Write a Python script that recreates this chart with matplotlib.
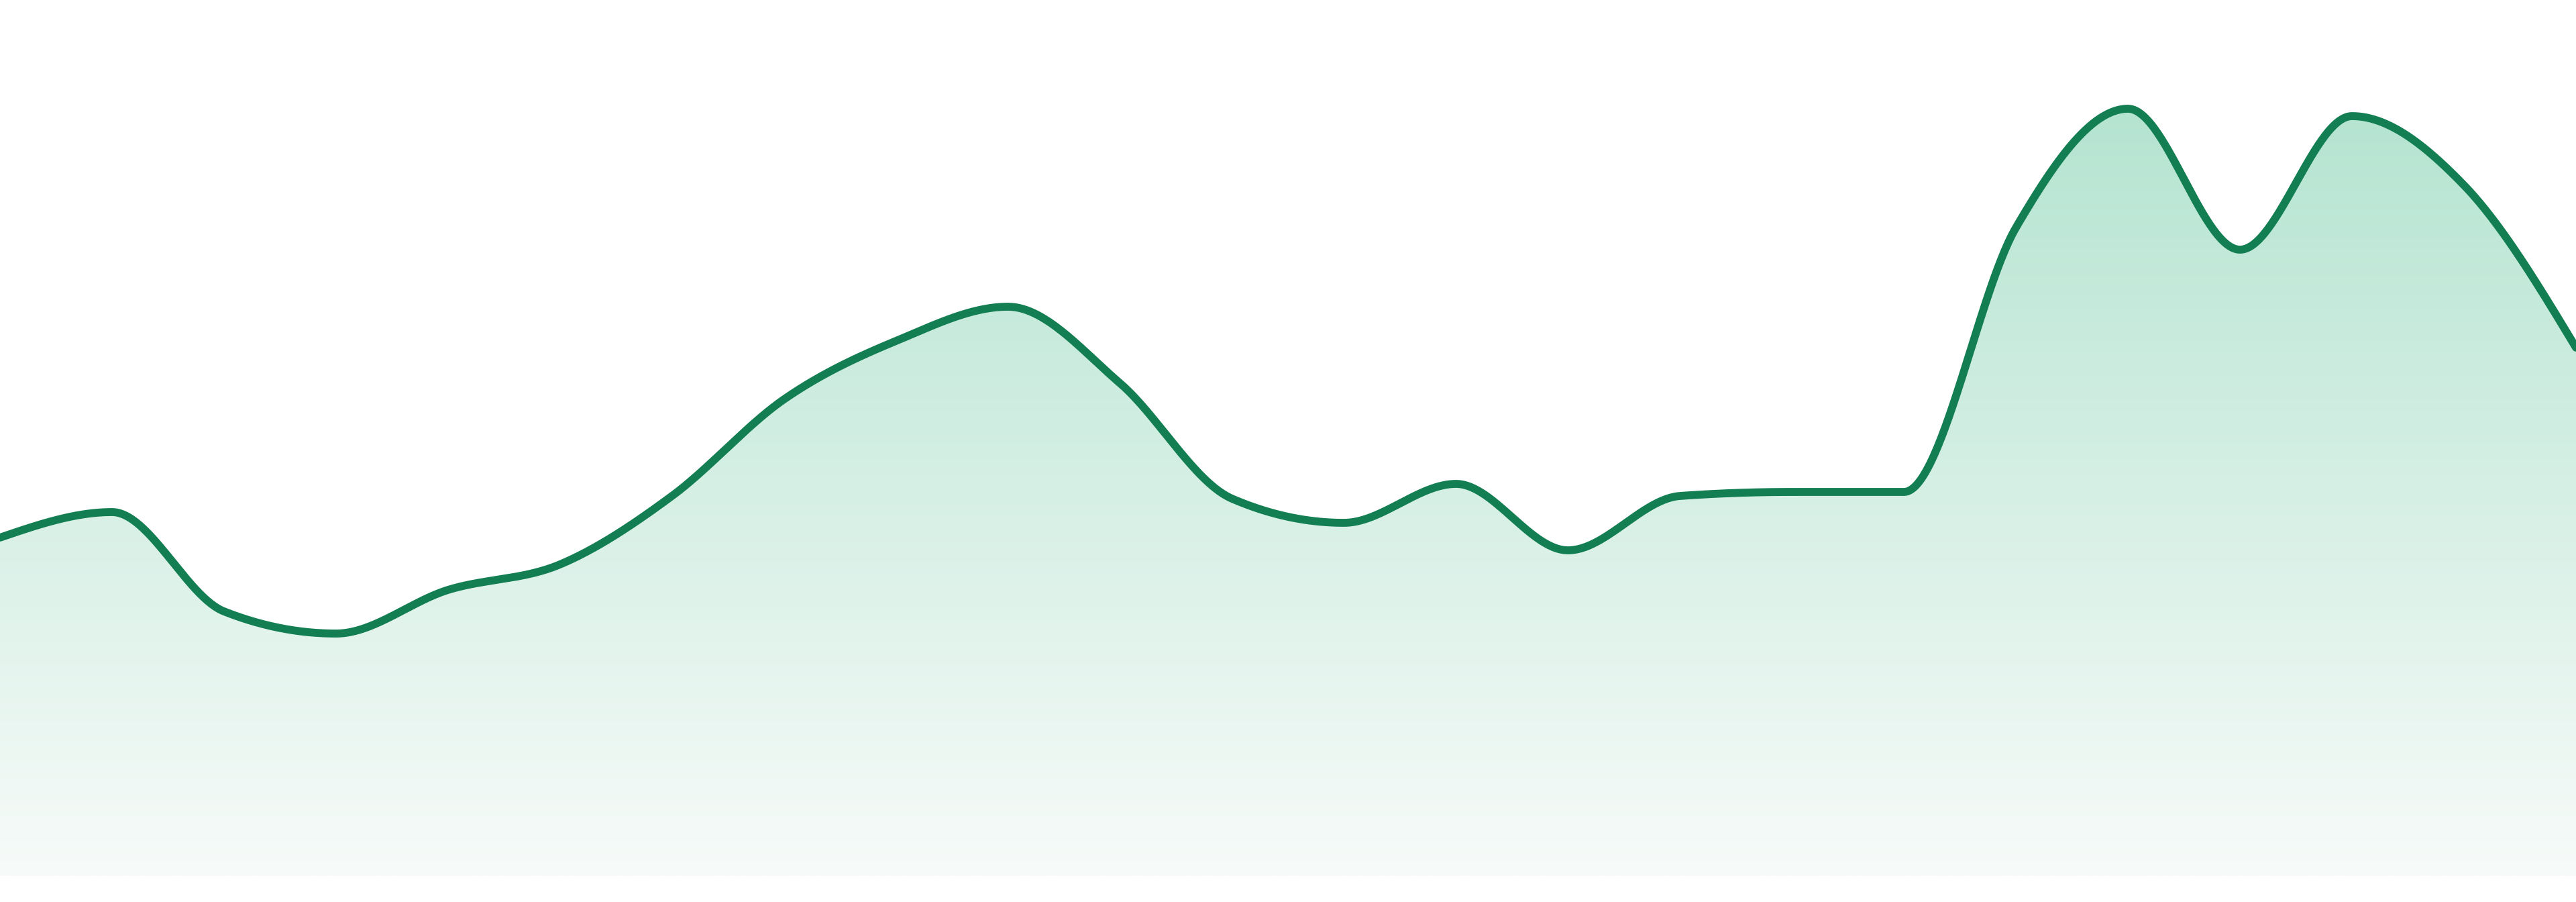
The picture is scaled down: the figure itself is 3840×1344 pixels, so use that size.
import numpy as np
import matplotlib
matplotlib.use("Agg")
import matplotlib.pyplot as plt
from matplotlib.patches import Polygon

# one value per step, evenly spaced across the full width
values = [50.4, 54.2, 39.4, 36.1, 42.6, 46.4, 56.6, 71.0, 79.7, 84.8, 73.4, 56.2,
          52.6, 58.4, 48.5, 56.6, 57.2, 57.2, 96.6, 114.3, 93.3, 113.2, 102.9, 78.7]
steps = list(range(len(values)))

line_color = "#137e52"
top_color = np.array([181, 228, 209]) / 255
bottom_color = np.array([247, 251, 249]) / 255


def monotone_x(x, y, per_seg=60):
    # same rules as d3.curveMonotoneX
    x = np.asarray(x, float)
    y = np.asarray(y, float)
    n = len(x)
    h = np.diff(x)
    s = np.diff(y) / h
    t = np.zeros(n)
    for i in range(1, n - 1):
        s0, s1 = s[i - 1], s[i]
        p = (s0 * h[i] + s1 * h[i - 1]) / (h[i - 1] + h[i])
        sg = (-1 if s0 < 0 else 1) + (-1 if s1 < 0 else 1)
        t[i] = sg * min(abs(s0), abs(s1), 0.5 * abs(p))
    t[0] = (3 * s[0] - t[1]) / 2
    t[-1] = (3 * s[-1] - t[-2]) / 2
    xs, ys = [], []
    for i in range(n - 1):
        u = np.linspace(0, 1, per_seg, endpoint=(i == n - 2))
        h00 = 2 * u**3 - 3 * u**2 + 1
        h10 = u**3 - 2 * u**2 + u
        h01 = -2 * u**3 + 3 * u**2
        h11 = u**3 - u**2
        xs.append(x[i] + u * h[i])
        ys.append(h00 * y[i] + h10 * h[i] * t[i] + h01 * y[i + 1] + h11 * h[i] * t[i + 1])
    return np.concatenate(xs), np.concatenate(ys)


xs, ys = monotone_x(steps, values)

fig = plt.figure(figsize=(38.4, 13.44), dpi=100)
ax = fig.add_axes([0, 0, 1, 1])
ax.axis("off")

# gradient fill under the curve
ymax = max(values)
grad = np.linspace(0, 1, 256)[:, None]
img = top_color[None, None, :] * (1 - grad[..., None]) + bottom_color[None, None, :] * grad[..., None]
img = np.repeat(img, 2, axis=1)
im = ax.imshow(img, extent=[0, len(values) - 1, 0, ymax], aspect="auto",
               origin="upper", interpolation="bilinear", zorder=1)
poly = Polygon(np.column_stack([np.r_[xs, xs[-1], xs[0]], np.r_[ys, 0, 0]]),
               closed=True, facecolor="none", edgecolor="none")
ax.add_patch(poly)
im.set_clip_path(poly)

ax.plot(xs, ys, color=line_color, lw=8.5, solid_capstyle="round", zorder=3)

# limits after imshow, which resets them to its extent
ax.set_xlim(0, len(values) - 1)
ax.set_ylim(-3.9, 130.5)

fig.savefig("out.png", dpi=100, facecolor="white")
